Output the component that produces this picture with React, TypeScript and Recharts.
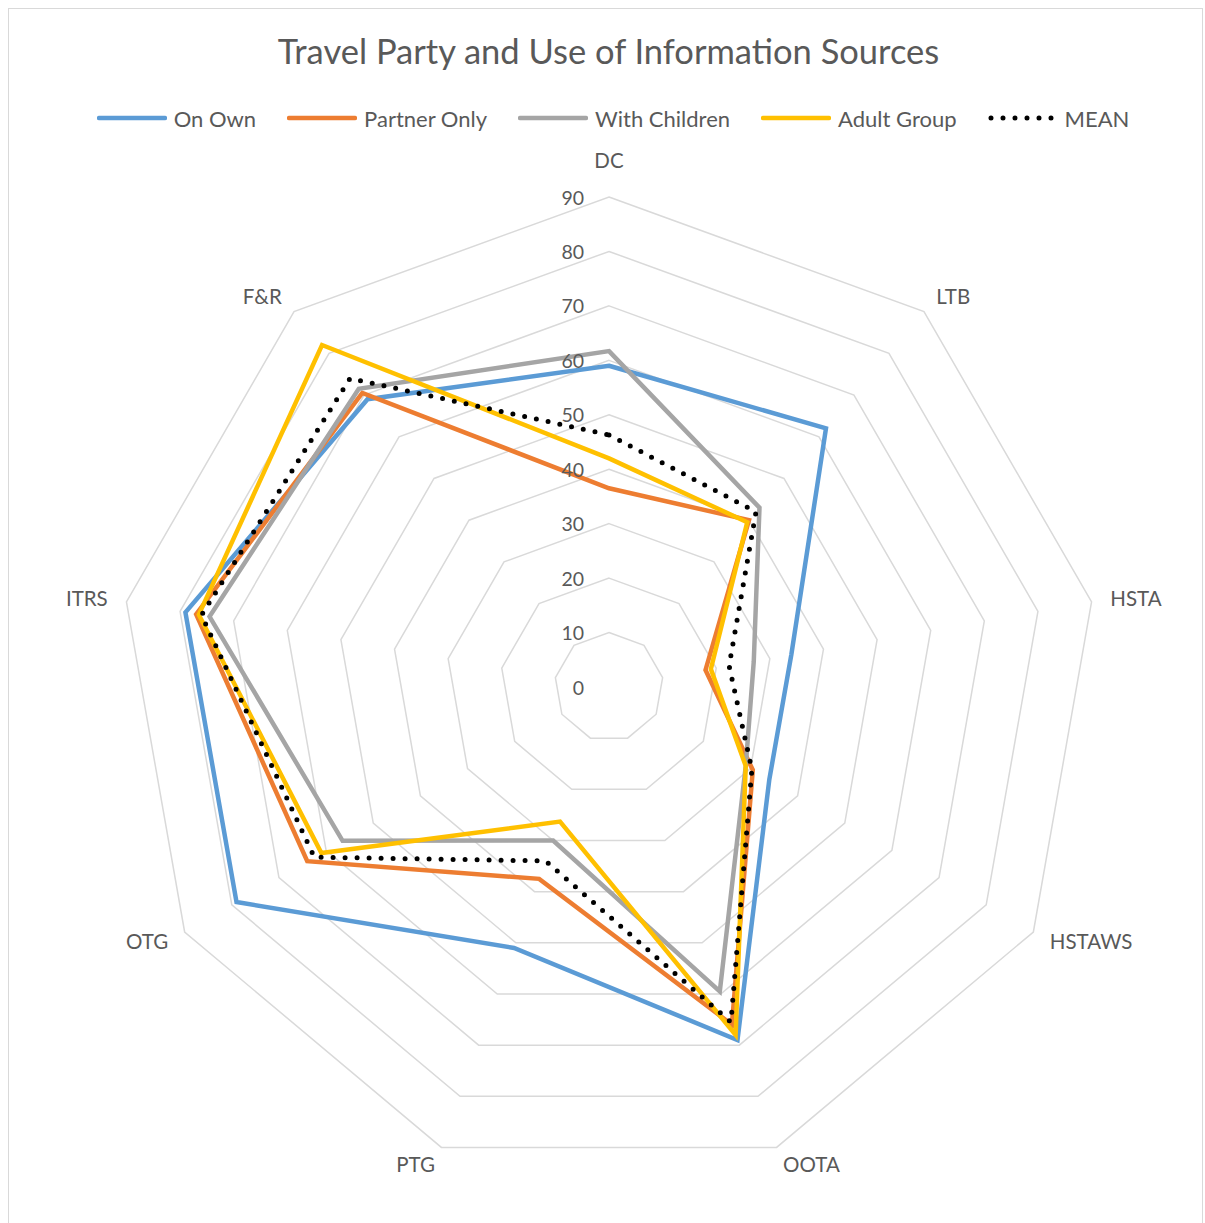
import React from 'react';
import { RadarChart, Radar, PolarGrid, PolarAngleAxis, PolarRadiusAxis } from 'recharts';

const categories = ['DC', 'LTB', 'HSTA', 'HSTAWS', 'OOTA', 'PTG', 'OTG', 'ITRS', 'F&R'];
const onOwn = [59, 62, 34, 34, 69, 51, 79, 79, 69];
const partnerOnly = [36.5, 40, 18, 30.5, 66, 37.5, 64, 77, 70.5];
const withChildren = [61.7, 43, 27, 29, 59.5, 30, 56.5, 74.5, 71.5];
const adultGroup = [42, 39.5, 19, 29, 68, 26.3, 61, 76.5, 82];
const mean = [46.3, 42, 22.4, 30.3, 65.5, 34, 62.5, 76, 74];

const series = [
  { key: 'onOwn', name: 'On Own', values: onOwn, color: '#5B9BD5', dotted: false },
  { key: 'partnerOnly', name: 'Partner Only', values: partnerOnly, color: '#ED7D31', dotted: false },
  { key: 'withChildren', name: 'With Children', values: withChildren, color: '#A5A5A5', dotted: false },
  { key: 'adultGroup', name: 'Adult Group', values: adultGroup, color: '#FFC000', dotted: false },
  { key: 'mean', name: 'MEAN', values: mean, color: '#000000', dotted: true },
];

const data = categories.map((category, i) => {
  const row: Record<string, string | number> = { category };
  series.forEach((s) => {
    row[s.key] = s.values[i];
  });
  return row;
});

const W = 1205;
const H = 1223;
const CX = 609;
const CY = 687;
const FONT = 'Lato, "Open Sans", sans-serif';
const TEXT = '#595959';

const AngleTick = (props: any) => {
  const { x, y, payload } = props;
  const dx = x - CX;
  const dy = y - CY;
  let anchor: 'start' | 'middle' | 'end' = 'middle';
  let ty = y;
  if (dx > 5) anchor = 'start';
  else if (dx < -5) anchor = 'end';
  else ty = dy < 0 ? y - 17 : y + 17;
  return (
    <text x={x} y={ty - 1} textAnchor={anchor} dominantBaseline="central" fill={TEXT} fontSize={20.5} fontFamily={FONT}>
      {payload.value}
    </text>
  );
};

const RadiusTick = (props: any) => {
  const { x, y, payload } = props;
  return (
    <text x={x - 25} y={y} textAnchor="end" dominantBaseline="central" fill={TEXT} fontSize={19.5} fontFamily={FONT}>
      {payload.value}
    </text>
  );
};

const LegendRow = () => (
  <div
    style={{
      position: 'absolute',
      top: 106,
      left: 0,
      width: W,
      display: 'flex',
      justifyContent: 'center',
      paddingLeft: 52,
      boxSizing: 'border-box',
      fontFamily: FONT,
      fontSize: 22,
      color: TEXT,
    }}
  >
    {series.map((s) => (
      <div key={s.key} style={{ display: 'flex', alignItems: 'center', marginRight: 31, height: 24 }}>
        <svg width={70} height={10} style={{ marginRight: 7 }}>
          {s.dotted ? (
            <line x1={3} y1={5} x2={67} y2={5} stroke={s.color} strokeWidth={5} strokeLinecap="round" strokeDasharray="0 12" />
          ) : (
            <line x1={2} y1={5} x2={68} y2={5} stroke={s.color} strokeWidth={4.5} strokeLinecap="round" />
          )}
        </svg>
        <span>{s.name}</span>
      </div>
    ))}
  </div>
);

export default function App() {
  return (
    <div style={{ position: 'absolute', left: 0, top: 0, width: W, height: H, background: '#fff', overflow: 'hidden' }}>
      <div
        style={{
          position: 'absolute',
          left: 8,
          top: 8,
          width: W - 10,
          height: H,
          border: '1px solid #d9d9d9',
          boxSizing: 'border-box',
        }}
      />
      <div
        style={{
          position: 'absolute',
          top: 30,
          left: 0,
          width: W,
          textAlign: 'center',
          fontFamily: FONT,
          fontSize: 34.5,
          color: TEXT,
          paddingLeft: 12,
          boxSizing: 'border-box',
        }}
      >
        Travel Party and Use of Information Sources
      </div>
      <LegendRow />
      <div style={{ position: 'absolute', left: 0, top: 0 }}>
        <RadarChart width={W} height={H} data={data} cx={CX} cy={CY} outerRadius={490} margin={{ top: 0, right: 0, bottom: 0, left: 0 }}>
          <PolarGrid gridType="polygon" radialLines={false} stroke="#d9d9d9" strokeWidth={1.5} />
          <PolarAngleAxis dataKey="category" tick={<AngleTick />} tickLine={false} axisLine={false} tickSize={19} />
          <PolarRadiusAxis
            angle={90}
            domain={[0, 90]}
            tickCount={10}
            type="number"
            orientation="left"
            axisLine={false}
            tickLine={false}
            tick={<RadiusTick />}
          />
          {series.map((s) => (
            <Radar
              key={s.key}
              name={s.name}
              dataKey={s.key}
              stroke={s.color}
              strokeWidth={s.dotted ? 5 : 4.5}
              strokeDasharray={s.dotted ? '0 12' : undefined}
              strokeLinecap="round"
              strokeLinejoin="miter"
              fill="none"
              fillOpacity={0}
              dot={false}
              isAnimationActive={false}
            />
          ))}
        </RadarChart>
      </div>
    </div>
  );
}
